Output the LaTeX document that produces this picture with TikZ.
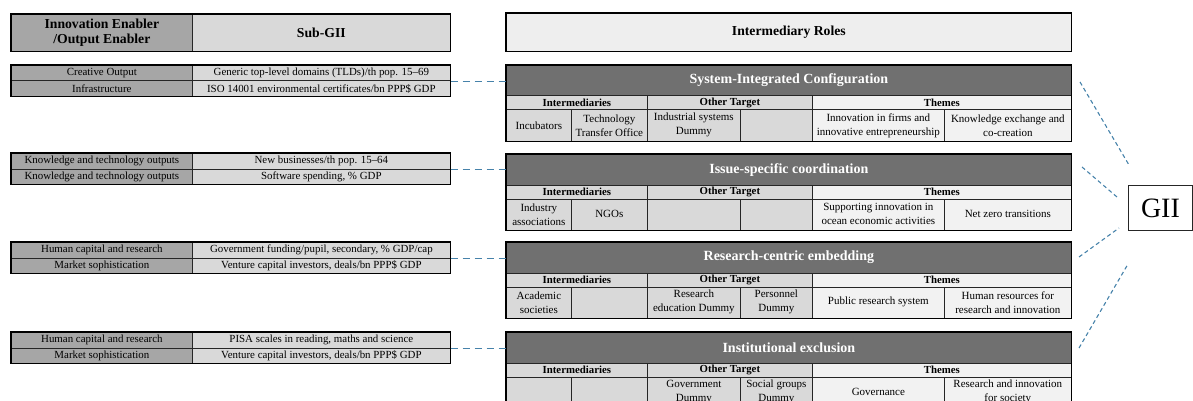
\documentclass[tikz,border=0pt]{standalone}
\usepackage{fontspec}
\setmainfont{Liberation Serif}
\usetikzlibrary{positioning}
\definecolor{titlegray}{RGB}{112,112,112}
\definecolor{cellgray}{RGB}{217,217,217}
\definecolor{themegray}{RGB}{242,242,242}
\definecolor{enabgray}{RGB}{166,166,166}
\definecolor{rolegray}{RGB}{238,238,238}
\definecolor{linkblue}{RGB}{70,130,170}
\begin{document}
\begin{tikzpicture}[x=1pt,y=-1pt,font=\fontsize{11}{14}\selectfont,
    box/.style={draw=black!85,line width=0.7pt,inner sep=0pt,align=center,anchor=north west},
    headbox/.style={box,font=\bfseries\fontsize{13.7}{15}\selectfont},
    colhead/.style={box,font=\bfseries\fontsize{10.8}{11}\selectfont,minimum height=14},
    rowbox/.style={box,font=\fontsize{10.9}{12}\selectfont,minimum height=15.5},
    titlebar/.style={box,fill=titlegray,text=white,font=\bfseries\fontsize{14}{15}\selectfont,minimum width=565,minimum height=30.5},
    link/.style={linkblue,line width=1.2pt,dash pattern=on 7pt off 5pt},
    giilink/.style={linkblue,line width=1.1pt,dash pattern=on 4pt off 3pt}]
    \clip (0,0) rectangle (1193,401);
    % headings
    \node [headbox,fill=enabgray,minimum width=181,minimum height=37] (hEnab) at (11,14) {Innovation Enabler\\/Output Enabler};
    \node [headbox,fill=cellgray,minimum width=258,minimum height=37] (hSub) at (192,14) {Sub-GII};
    \node [headbox,fill=rolegray,minimum width=565,minimum height=38] (hRoles) at (506,13) {Intermediary Roles};
    \draw [line width=1.3pt] (hEnab.north west) rectangle (hSub.south east);
    \draw [line width=1.3pt] (hRoles.north west) rectangle (hRoles.south east);
    % enabler / sub-GII rows
    \foreach \i/\y/\ea/\sa/\eb/\sb in {
        1/65/Creative Output/{Generic top-level domains (TLDs)/th pop. 15--69}/Infrastructure/{ISO 14001 environmental certificates/bn PPP\$ GDP},
        2/153/Knowledge and technology outputs/{New businesses/th pop. 15--64}/Knowledge and technology outputs/{Software spending, \% GDP},
        3/242/Human capital and research/{Government funding/pupil, secondary, \% GDP/cap}/Market sophistication/{Venture capital investors, deals/bn PPP\$ GDP},
        4/332/Human capital and research/{PISA scales in reading, maths and science}/Market sophistication/{Venture capital investors, deals/bn PPP\$ GDP}} {
        \node [rowbox,fill=enabgray,minimum width=181] (ea\i) at (11,\y) {\ea};
        \node [rowbox,fill=cellgray,minimum width=258] (sa\i) at (192,\y) {\sa};
        \node [rowbox,fill=enabgray,minimum width=181] (eb\i) at (11,\y+15.5) {\eb};
        \node [rowbox,fill=cellgray,minimum width=258] (sb\i) at (192,\y+15.5) {\sb};
        \draw [line width=1.3pt] (ea\i.north west) rectangle (sb\i.south east);
    }
    % intermediary role blocks
    \foreach \i/\y/\ttl/\ca/\cb/\cc/\cd/\ce/\cf in {
        1/65/System-Integrated Configuration/Incubators/{Technology\\Transfer Office}/{Industrial systems\\Dummy}/{}/{Innovation in firms and\\innovative entrepreneurship}/{Knowledge exchange and\\co-creation},
        2/154/Issue-specific coordination/{Industry\\associations}/NGOs/{}/{}/{Supporting innovation in\\ocean economic activities}/Net zero transitions,
        3/242/Research-centric embedding/{Academic\\societies}/{}/{Research\\education Dummy}/{Personnel\\Dummy}/Public research system/{Human resources for\\research and innovation},
        4/332/Institutional exclusion/{}/{}/{Government\\Dummy}/{Social groups\\Dummy}/Governance/{Research and innovation\\for society}} {
        \node [titlebar] (t\i) at (506,\y) {\ttl};
        \node [colhead,fill=cellgray,minimum width=141] (hi\i) at (506,\y+30.5) {Intermediaries};
        \node [colhead,fill=cellgray,minimum width=165] (ho\i) at (647,\y+30.5) {Other Target};
        \node [colhead,fill=themegray,minimum width=259] (ht\i) at (812,\y+30.5) {Themes};
        \node [box,fill=cellgray,minimum width=65,minimum height=31] (ca\i) at (506,\y+44.5) {\ca};
        \node [box,fill=cellgray,minimum width=76,minimum height=31] (cb\i) at (571,\y+44.5) {\cb};
        \node [box,fill=cellgray,minimum width=93,minimum height=31] (cc\i) at (647,\y+44.5) {\cc};
        \node [box,fill=cellgray,minimum width=72,minimum height=31] (cd\i) at (740,\y+44.5) {\cd};
        \node [box,fill=themegray,minimum width=132,minimum height=31] (ce\i) at (812,\y+44.5) {\ce};
        \node [box,fill=themegray,minimum width=127,minimum height=31] (cf\i) at (944,\y+44.5) {\cf};
        \draw [line width=1.3pt] (t\i.north west) rectangle (cf\i.south east);
        \draw [link] (sa\i.south east) -- (sa\i.south east -| t\i.west);
    }
    % GII
    \node [box,line width=0.9pt,minimum width=64,minimum height=45,font=\fontsize{28}{28}\selectfont] (gii) at (1128,185) {GII};
    \coordinate (s1) at (1080,82);  \coordinate (e1) at (1129,165);
    \coordinate (s2) at (1082,167); \coordinate (e2) at (1117,197);
    \coordinate (s3) at (1079,257); \coordinate (e3) at (1119,228);
    \coordinate (s4) at (1079,348); \coordinate (e4) at (1128,264);
    \foreach \i in {1,...,4}
        \draw [giilink] (s\i) -- (e\i);
\end{tikzpicture}
\end{document}
